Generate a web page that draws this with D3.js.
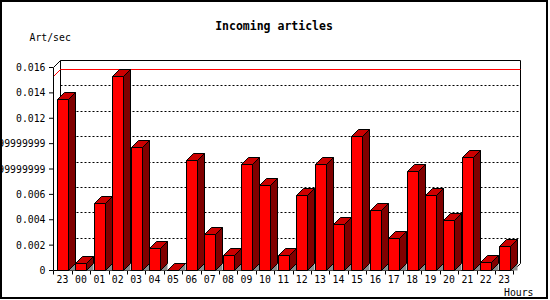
<!DOCTYPE html>
<html>
<head>
<meta charset="utf-8">
<script src="https://cdn.jsdelivr.net/npm/d3@7"></script>
<style>
body { margin:0; background:#fff; }
text { font-family:"DejaVu Sans Mono", monospace; fill:#000; }
</style>
</head>
<body>
<div id="chart"></div>
<script>
// hourly categories (first one is the previous day's 23h)
var hours = ["23","00","01","02","03","04","05","06","07","08","09","10","11","12",
	"13","14","15","16","17","18","19","20","21","22","23"];
var rates = [0.01345,0.00058,0.00528,0.01527,0.00972,0.00171,0,0.00864,0.00281,0.00116,
	0.00833,0.00667,0.00116,0.00588,0.00833,0.0036,0.01056,0.0047,0.0025,0.00778,
	0.00588,0.00392,0.00888,0.00061,0.00187];
var yTicks = [0,0.002,0.004,0.006,0.008,0.01,0.012,0.014,0.016];
var yTickLabels = ["0","0.002","0.004","0.006","0.0079999999999","0.0099999999999","0.012","0.014","0.016"];
var gridValues = [0.002,0.004,0.006,0.008,0.01,0.012,0.014];

// snap to pixel centre so 1px strokes stay sharp
function px(v){ return Math.round(v) + 0.5 }

function draw(){
	var W = 550, H = 300;
	var plotLeft = 53.3, plotRight = 513.3, plotBottom = 270, plotTop = 67;
	var dx = 7, dy = 7;

	var svg = d3.select("#chart").append("svg")
		.attr("width", W)
		.attr("height", H)

	// outer frame
	svg.append("rect")
		.attr("x", 1).attr("y", 1)
		.attr("width", 546).attr("height", 297)
		.attr("fill", "#fff")
		.attr("stroke", "#000")
		.attr("stroke-width", 2)

	var x = d3.scaleBand()
		.domain(d3.range(hours.length))
		.range([plotLeft, plotRight])
		.paddingInner(0.4)
		.paddingOuter(0.2);

	var y = d3.scaleLinear()
		.domain([0, 0.016])
		.range([plotBottom, plotTop]);

	var step = x.step();
	var L = px(plotLeft), R = px(plotRight), B = px(plotBottom), T = px(plotTop);

	// back plane frame
	var frame = svg.append("g").attr("stroke", "#000").attr("fill", "none")
	frame.append("path")
		.attr("d", "M" + (L + dx) + "," + (B - dy) + "V" + (T - dy) + "H" + (R + dx) + "V" + (B - dy))
	frame.append("line")
		.attr("x1", L).attr("y1", T).attr("x2", L + dx).attr("y2", T - dy)

	// dotted grid on back plane
	svg.append("g").selectAll("line")
		.data(gridValues)
		.enter().append("line")
		.attr("x1", L + dx)
		.attr("x2", R + dx)
		.attr("y1", function(d){ return px(y(d)) - dy })
		.attr("y2", function(d){ return px(y(d)) - dy })
		.attr("stroke", "#000")
		.attr("stroke-dasharray", "2,2")

	// red line at the max value
	var maxY = px(y(d3.max(rates)))
	svg.append("path")
		.attr("d", "M" + L + "," + maxY + "L" + (L + dx) + "," + (maxY - dy) + "H" + (R + dx))
		.attr("fill", "none")
		.attr("stroke", "#ff0000")
		.attr("stroke-width", 1)

	// y axis
	var yAxis = svg.append("g")
		.attr("transform", "translate(" + (L - 0.5) + ",0)")
		.call(d3.axisLeft(y).tickValues(yTicks).tickSizeInner(4).tickSizeOuter(0)
			.tickFormat(function(d, i){ return yTickLabels[i] }))
	yAxis.select(".domain").attr("stroke", "#000")
	yAxis.selectAll(".tick line").attr("stroke", "#000")
	yAxis.selectAll("text")
		.attr("x", -7.5)
		.attr("dy", "0.36em")
		.style("font-family", "DejaVu Sans Mono")
		.style("font-size", "9.8px")
		.attr("fill", "#000")

	// x axis line and boundary ticks
	var xg = svg.append("g").attr("stroke", "#000")
	xg.append("line")
		.attr("x1", L).attr("x2", R)
		.attr("y1", B).attr("y2", B)
	xg.append("line")
		.attr("x1", R).attr("y1", B).attr("x2", R + dx).attr("y2", B - dy)
	xg.selectAll(".xt")
		.data(d3.range(hours.length + 1))
		.enter().append("line")
		.attr("x1", function(i){ return px(plotLeft + i * step) })
		.attr("x2", function(i){ return px(plotLeft + i * step) })
		.attr("y1", B).attr("y2", B + 4)

	svg.append("g").selectAll("text")
		.data(hours)
		.enter().append("text")
		.attr("x", function(d, i){ return x(i) + x.bandwidth() / 2 })
		.attr("y", 283)
		.attr("text-anchor", "middle")
		.style("font-size", "9.8px")
		.text(function(d){ return d })

	// grey floor wedges next to each bar
	svg.append("g").selectAll("path")
		.data(rates)
		.enter().append("path")
		.attr("d", function(d, i){
			var x1 = px(x(i) + x.bandwidth())
			return "M" + x1 + "," + B + "L" + (x1 + dx) + "," + (B - dy) + "V" + B + "Z"
		})
		.attr("fill", "#8c8c8c")

	// 3d bars
	var bars = svg.append("g").selectAll("g")
		.data(rates)
		.enter().append("g")
		.attr("stroke", "#000")
		.attr("stroke-width", 1)

	bars.append("path")
		.attr("fill", "#800000")
		.attr("d", function(d, i){
			var x1 = px(x(i) + x.bandwidth()), yt = px(y(d))
			return "M" + x1 + "," + B + "V" + yt + "L" + (x1 + dx) + "," + (yt - dy) + "V" + (B - dy) + "Z"
		})
	bars.append("path")
		.attr("fill", "#cc0000")
		.attr("d", function(d, i){
			var x0 = px(x(i)), x1 = px(x(i) + x.bandwidth()), yt = px(y(d))
			return "M" + x0 + "," + yt + "L" + (x0 + dx) + "," + (yt - dy) + "H" + (x1 + dx) + "L" + x1 + "," + yt + "Z"
		})
	bars.append("path")
		.attr("fill", "#ff0000")
		.attr("d", function(d, i){
			var x0 = px(x(i)), x1 = px(x(i) + x.bandwidth()), yt = px(y(d))
			return "M" + x0 + "," + B + "V" + yt + "H" + x1 + "V" + B + "Z"
		})

	// titles
	svg.append("text")
		.attr("x", 274).attr("y", 29.5)
		.attr("text-anchor", "middle")
		.style("font-size", "11.5px")
		.style("font-weight", "bold")
		.text("Incoming articles")

	svg.append("text")
		.attr("x", 29.5).attr("y", 40.5)
		.style("font-size", "9.8px")
		.text("Art/sec")

	svg.append("text")
		.attr("x", 504).attr("y", 296)
		.style("font-size", "9.8px")
		.text("Hours")
}

draw()
</script>
</body>
</html>
